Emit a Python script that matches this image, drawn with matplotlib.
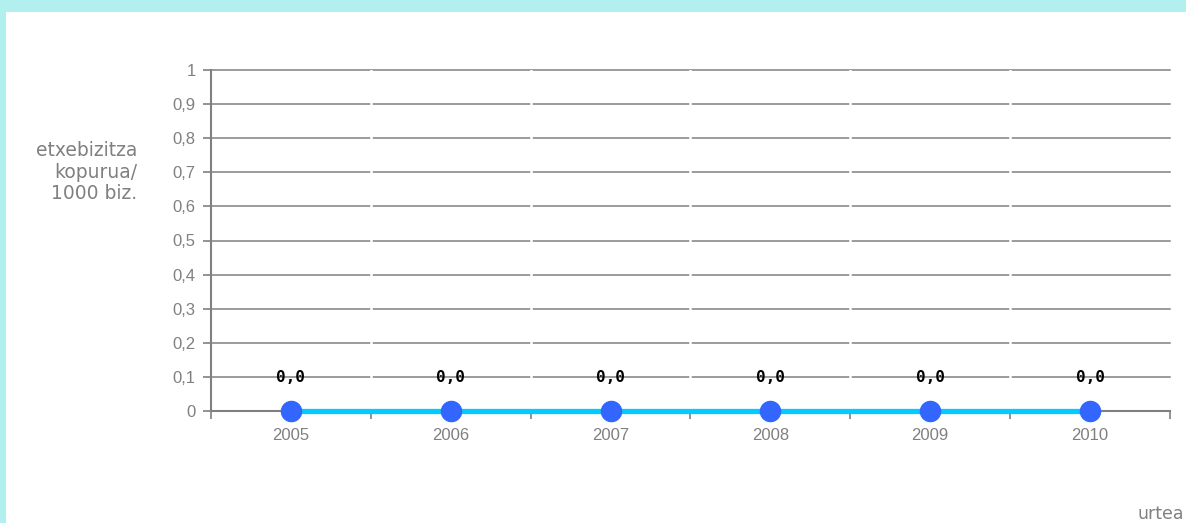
import numpy as np
import matplotlib.pyplot as plt

# data
years = ['2005', '2006', '2007', '2008', '2009', '2010']
values = [0.0, 0.0, 0.0, 0.0, 0.0, 0.0]
yticks = [0, 0.1, 0.2, 0.3, 0.4, 0.5, 0.6, 0.7, 0.8, 0.9, 1]

plt.rcParams['font.family'] = ['Liberation Sans', 'DejaVu Sans']
gray = '#808080'

fig = plt.figure(figsize=(11.86, 5.23), dpi=100)
fig.patch.set_facecolor('#b2f0f0')
# white panel inside the cyan frame
fig.patches.append(plt.Rectangle((6/1186, 0), 1 - 6/1186, 1 - 12/523,
                                 transform=fig.transFigure, facecolor='white',
                                 edgecolor='none', zorder=-5))

ax = fig.add_axes([211/1186, 1 - 411/523, (1170 - 211)/1186, (411 - 70)/523])
ax.set_facecolor('none')

x = np.arange(len(years))
ax.plot(x, values, color='#00ccff', lw=3.8, zorder=3, solid_capstyle='butt',
        clip_on=False)
ax.plot(x, values, 'o', color='#3366ff', ms=14.5, zorder=4, clip_on=False)
for xi, v in zip(x, values):
    ax.annotate(f'{v:.1f}'.replace('.', ','), (xi, v), xytext=(0, 24),
                textcoords='offset points', ha='center', va='center',
                fontsize=11.5, fontweight='bold', family='DejaVu Sans Mono',
                color='black', zorder=5)

ax.set_xlim(-0.5, len(years) - 0.5)
ax.set_ylim(0, 1)

# y axis
ax.set_yticks(yticks)
ax.set_yticklabels([('%g' % t).replace('.', ',') for t in yticks])
ax.yaxis.grid(True, color=gray, lw=1.1, zorder=0.5)
ax.set_axisbelow(True)
for gl in ax.get_ygridlines():
    gl.set_clip_on(False)

# small gaps in the gridlines at category boundaries
bounds = np.arange(-0.5, len(years) + 0.5)
ax.vlines(bounds[1:-1], 0.01, 1.005, color='white', lw=1.8, zorder=0.8)

# x axis: ticks at boundaries, labels at centres
ax.set_xticks(bounds)
ax.set_xticklabels([])
ax.set_xticks(x, minor=True)
ax.set_xticklabels(years, minor=True)
ax.tick_params(axis='x', which='minor', length=0, pad=12)
ax.tick_params(axis='x', which='major', length=6, width=1.2, color=gray, direction='out')
ax.tick_params(axis='y', length=6, width=1.2, color=gray, pad=5)
ax.tick_params(which='both', labelsize=12, labelcolor=gray)

for s in ['top', 'right']:
    ax.spines[s].set_visible(False)
for s in ['left', 'bottom']:
    ax.spines[s].set_color(gray)
    ax.spines[s].set_linewidth(1.5)

fig.text(137/1186, 1 - 172/523, 'etxebizitza\nkopurua/\n1000 biz.', ha='right',
         va='center', fontsize=13.5, family='DejaVu Sans', color=gray,
         linespacing=1.15)
fig.text(1184/1186, 1 - 514/523, 'urtea', ha='right', va='center',
         fontsize=12.5, family='DejaVu Sans', color=gray)

fig.savefig('out.png', dpi=100, facecolor=fig.get_facecolor())
